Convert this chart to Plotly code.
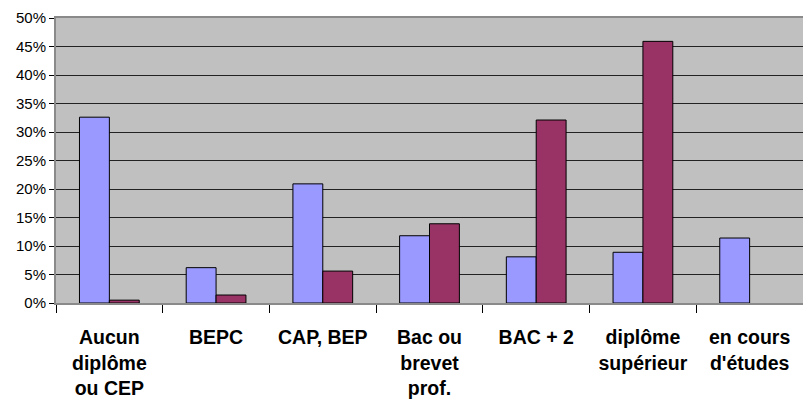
import plotly.graph_objects as go

# Education levels (x categories) and the two compared series (shares)
categories = [
    "Aucun<br>diplôme<br>ou CEP",
    "BEPC",
    "CAP, BEP",
    "Bac ou<br>brevet<br>prof.",
    "BAC + 2",
    "diplôme<br>supérieur",
    "en cours<br>d'études",
]
series_a = [0.326, 0.062, 0.209, 0.118, 0.081, 0.089, 0.114]
series_b = [0.005, 0.014, 0.056, 0.139, 0.321, 0.459, None]

y_ticks = [i * 0.05 for i in range(11)]
y_ticktext = [f"{int(round(v * 100))}%" for v in y_ticks]

fig = go.Figure()
fig.add_trace(go.Bar(
    x=categories, y=series_a,
    marker=dict(color="#9999FF", line=dict(color="#000000", width=1)),
))
fig.add_trace(go.Bar(
    x=categories, y=series_b,
    marker=dict(color="#993366", line=dict(color="#000000", width=1)),
))

fig.update_layout(
    width=803, height=399,
    margin=dict(l=56, r=0, t=18, b=96),
    paper_bgcolor="#FFFFFF",
    plot_bgcolor="#C0C0C0",
    barmode="group",
    bargap=0.44,
    bargroupgap=0,
    showlegend=False,
    font=dict(family="Liberation Sans, Arial, sans-serif", color="#000000"),
)

fig.update_xaxes(
    type="category",
    tickson="boundaries",
    ticks="outside",
    ticklen=8,
    tickcolor="#000000",
    tickwidth=1,
    ticklabelstandoff=16,
    tickfont=dict(size=19.5, weight="bold", color="#000000"),
    showline=True,
    linecolor="#8a8a8a",
    linewidth=2,
    mirror=True,
    showgrid=False,
)

fig.update_yaxes(
    range=[0, 0.5],
    tickvals=y_ticks,
    ticktext=y_ticktext,
    ticks="outside",
    ticklen=5,
    tickcolor="#000000",
    tickfont=dict(size=15, color="#000000"),
    showline=True,
    linecolor="#8a8a8a",
    linewidth=2,
    showgrid=True,
    gridcolor="#222222",
    gridwidth=1.2,
    zeroline=False,
)

fig.write_html("out.html")
